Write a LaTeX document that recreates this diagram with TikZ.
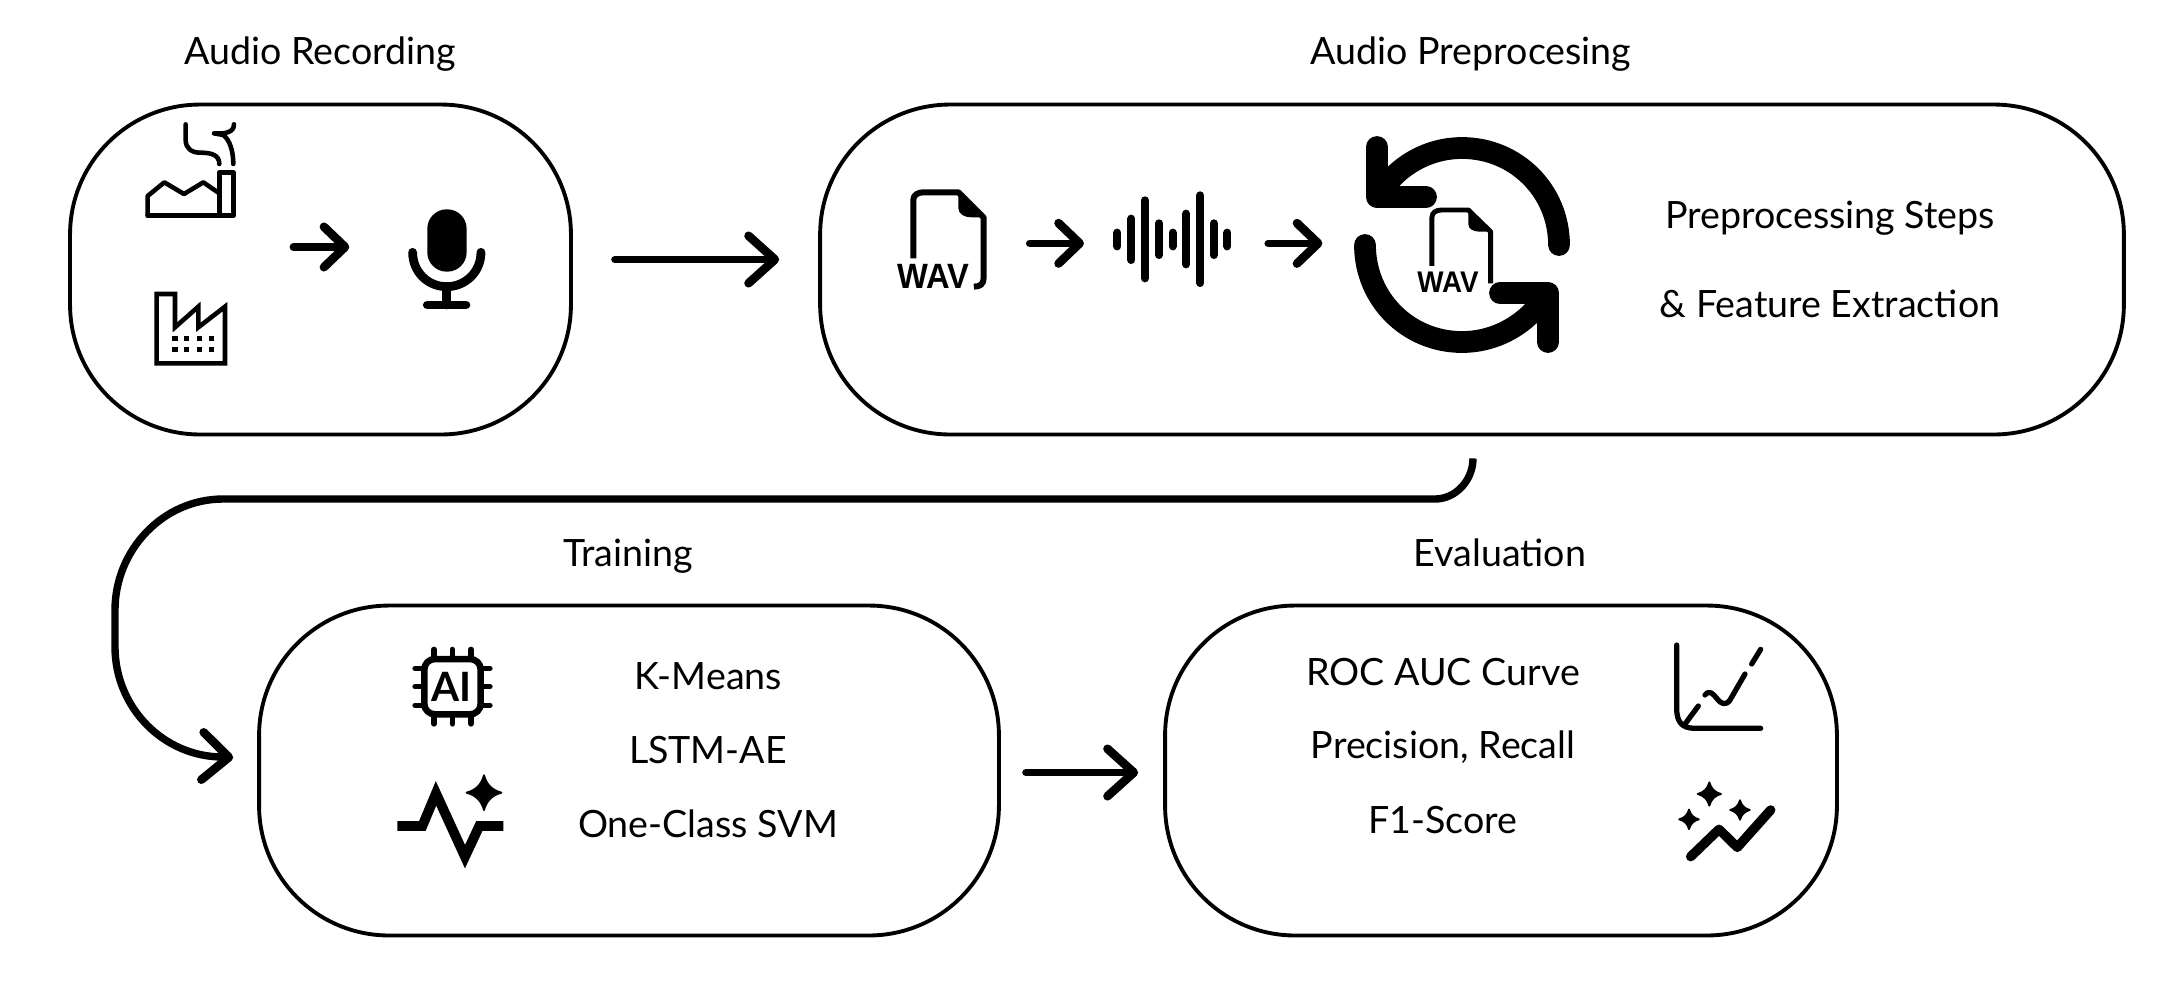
\documentclass[tikz,border=0pt]{standalone}
\usepackage{fontspec}
\setmainfont{Lato}
\newfontfamily\iconfont{Liberation Sans}
\usetikzlibrary{arrows.meta}
\tikzset{
  stagebox/.style={draw,line width=2.2pt,rounded corners=2.6cm,minimum height=6.6cm},
  stagetext/.style={font=\fontsize{21.4}{26}\selectfont,inner sep=0pt,anchor=base},
  bigarrow/.style={line width=4.2pt,line cap=round,line join=round,-{Straight Barb[round,length=15pt,width=27pt,line width=4.9pt]}},
  smallarrow/.style={line width=4.2pt,line cap=round,line join=round,-{Straight Barb[round,length=12pt,width=23pt,line width=4.9pt]}},
  iconline/.style={line width=3pt,line cap=round,line join=round},
  sparkle/.pic={\filldraw[line width=1pt,line join=round] (0,-.92) .. controls (.14,-.42) and (.42,-.14) .. (.92,0) .. controls (.42,.14) and (.14,.42) .. (0,.92) .. controls (-.14,.42) and (-.42,.14) .. (-.92,0) .. controls (-.42,-.14) and (-.14,-.42) .. cycle;}
}
\begin{document}
\begin{tikzpicture}[x=0.02cm,y=-0.02cm]
  \useasboundingbox (0,0) rectangle (2184,992);

  % boxes
  \node[stagebox,minimum width=10.02cm] (recbox) at (320.5,269.5) {};
  \node[stagebox,minimum width=26.08cm] (prepbox) at (1472,269.5) {};
  \node[stagebox,minimum width=14.8cm] (trainbox) at (629,770.5) {};
  \node[stagebox,minimum width=13.44cm] (evalbox) at (1501,770.5) {};

  % titles
  \node[stagetext] (rectitle) at (320,64) {Audio Recording};
  \node[stagetext] (preptitle) at (1471,64) {Audio Preprocesing};
  \node[stagetext] (traintitle) at (628,566) {Training};
  \node[stagetext] (evaltitle) at (1500,566) {Evaluation};

  % texts in the boxes
  \node[stagetext] (stepstext) at (1830,228) {Preprocessing Steps};
  \node[stagetext] (feattext) at (1830,317) {\& Feature Extraction};
  \node[stagetext] (kmeans) at (708,689) {K-Means};
  \node[stagetext] (lstm) at (708,763) {LSTM-AE};
  \node[stagetext] (svm) at (708,837) {One-Class SVM};
  \node[stagetext] (roc) at (1443,685) {ROC AUC Curve};
  \node[stagetext] (prec) at (1443,758) {Precision, Recall};
  \node[stagetext] (fone) at (1443,833) {F1-Score};

  % arrows between the boxes
  \draw[bigarrow] ([shift={(42,-10)}]recbox.east) -- ([shift={(-39,-10)}]prepbox.west);
  \draw[bigarrow] ([shift={(25,2)}]trainbox.east) -- ([shift={(-25,2)}]evalbox.west);
  \coordinate (busstart) at ([shift={(1,22)}]prepbox.south);
  \coordinate (busend) at ([shift={(-24,-13)}]trainbox.west);
  \draw[bigarrow,line cap=butt] (busstart) .. controls (1473,480) and (1456,499) .. (1435,499)
    -- (223,499) .. controls (163,499) and (115,550) .. (115,610)
    -- (115,647) .. controls (115,707) and (163,757) .. (223,757) -- (busend);

  % audio recording icons
  \begin{scope}[shift={(60,90)},scale=0.3333]
    \draw[iconline,line width=2.6pt] (263,377) -- (263,318) -- (313,277) -- (372,312) -- (430,277) -- (478,310);
    \draw[iconline,line width=2.6pt] (478,377) -- (478,247) -- (520,247) -- (520,377) -- (263,377);
    \draw[iconline,line width=2.6pt] (377,103) -- (377,150) .. controls (377,175) and (395,188) .. (420,188)
      .. controls (455,188) and (478,195) .. (478,222);
    \draw[iconline,line width=2.6pt] (520,222) .. controls (520,185) and (510,150) .. (490,135) -- (462,130)
      .. controls (495,132) and (522,128) .. (522,103);
    \draw[line width=2.6pt,miter limit=10] (290,612) -- (345,612) -- (345,712) -- (415,650) -- (415,712) -- (495,650) -- (495,820) -- (290,820) -- cycle;
    \foreach \x in {345,380,418,455}{
      \foreach \y in {745,778}{
        \fill (\x-8,\y-8) rectangle (\x+8,\y+8);
      }
    }
    \fill[rounded corners=11pt] (1102,545) rectangle (1220,358);
    \draw[iconline,line width=5pt] (1058,487) .. controls (1058,545) and (1103,590) .. (1160,590)
      .. controls (1217,590) and (1263,545) .. (1263,487);
    \draw[iconline,line width=5pt] (1160,590) -- (1160,645);
    \draw[iconline,line width=5pt] (1102,645) -- (1218,645);
    \coordinate (recfrom) at (700,471);
    \coordinate (recto) at (868,471);
  \end{scope}
  \draw[smallarrow] (recfrom) -- (recto);

  % audio preprocessing icons
  \begin{scope}[shift={(860,110)},xscale=0.4847,yscale=0.3333]
    \draw[iconline,line cap=butt,line width=3.4pt] (110,445) -- (110,270) .. controls (110,255) and (118,247) .. (133,247) -- (203,247) -- (255,322) -- (255,505) .. controls (255,522) and (248,530) .. (235,530);
    \fill (203,245) -- (203,295) .. controls (203,312) and (215,322) .. (230,322) -- (258,322) -- cycle;
    \node[inner sep=0pt] (wavone) at (152,498) {\iconfont\fontsize{20}{20}\selectfont\scalebox{0.93}[1]{\bfseries WAV}};
    \foreach \x/\t/\b in {531/355/422,560/313/463,588/258/518,617/327/448,645/355/422,673/298/476,702/243/532,730/327/448,758/355/422}{
      \draw[line width=4.6pt,line cap=round] (\x,\t+13) -- (\x,\b-13);
    }
    \coordinate (wavfrom) at (350,400);
    \coordinate (wavto) at (462,400);
    \coordinate (barfrom) at (842,400);
    \coordinate (barto) at (954,400);
    \draw[iconline,line cap=butt,line width=2.8pt] (1180,468) -- (1180,322) .. controls (1180,308) and (1188,300) .. (1200,300) -- (1255,300) -- (1301,365) -- (1301,520);
    \fill (1255,298) -- (1255,342) .. controls (1255,356) and (1265,365) .. (1278,365) -- (1303,365) -- cycle;
    \node[inner sep=0pt] (wavtwo) at (1213,517) {\iconfont\fontsize{17}{17}\selectfont\scalebox{0.93}[1]{\bfseries WAV}};
  \end{scope}
  \draw[smallarrow] (wavfrom) -- (wavto);
  \draw[smallarrow] (barfrom) -- (barto);
  \draw[line width=12.4pt,line cap=round] (1559,245) .. controls (1559,191) and (1516,148) .. (1462,148)
    .. controls (1426,148) and (1394,168) .. (1378,197);
  \draw[line width=12.4pt,line cap=round,line join=round] (1377,147) -- (1377,197) -- (1426,197);
  \draw[line width=12.4pt,line cap=round] (1365,245) .. controls (1365,299) and (1408,342) .. (1462,342)
    .. controls (1498,342) and (1530,322) .. (1547,293);
  \draw[line width=12.4pt,line cap=round,line join=round] (1548,342) -- (1548,293) -- (1500,293);

  % training icons
  \begin{scope}[shift={(370,630)},scale=0.3333]
    \draw[line width=3.7pt,rounded corners=6pt] (163,87) rectangle (332,253);
    \foreach \x in {192,247,303}{
      \draw[iconline] (\x,58) -- (\x,80);
      \draw[iconline] (\x,260) -- (\x,282);
    }
    \foreach \y in {115,170,226}{
      \draw[iconline] (135,\y) -- (157,\y);
      \draw[iconline] (338,\y) -- (360,\y);
    }
    \node[inner sep=0pt] (aitext) at (245,171) {\fontsize{23}{23}\selectfont\bfseries AI};
    \draw[line width=5.6pt,miter limit=10] (82,588) -- (157,588) -- (198,490) -- (285,680) -- (328,588) -- (400,588);
    \pic[scale=19] at (342,488) {sparkle};
  \end{scope}

  % evaluation icons
  \begin{scope}[shift={(1650,620)},scale=0.3333]
    \draw[iconline] (80,75) -- (80,265) .. controls (80,305) and (95,325) .. (135,325) -- (332,325);
    \draw[iconline] (105,312) -- (145,258);
    \draw[iconline] (165,225) .. controls (178,208) and (190,222) .. (200,235) .. controls (212,252) and (228,258) .. (240,240) -- (285,162);
    \draw[iconline] (305,132) -- (332,88);
    \pic[scale=12.7] at (178,522) {sparkle};
    \pic[scale=10.7] at (270,570) {sparkle};
    \pic[scale=10.7] at (117,598) {sparkle};
    \draw[iconline,line width=5.4pt] (122,710) -- (207,628) -- (262,682) -- (362,570);
  \end{scope}
\end{tikzpicture}
\end{document}
